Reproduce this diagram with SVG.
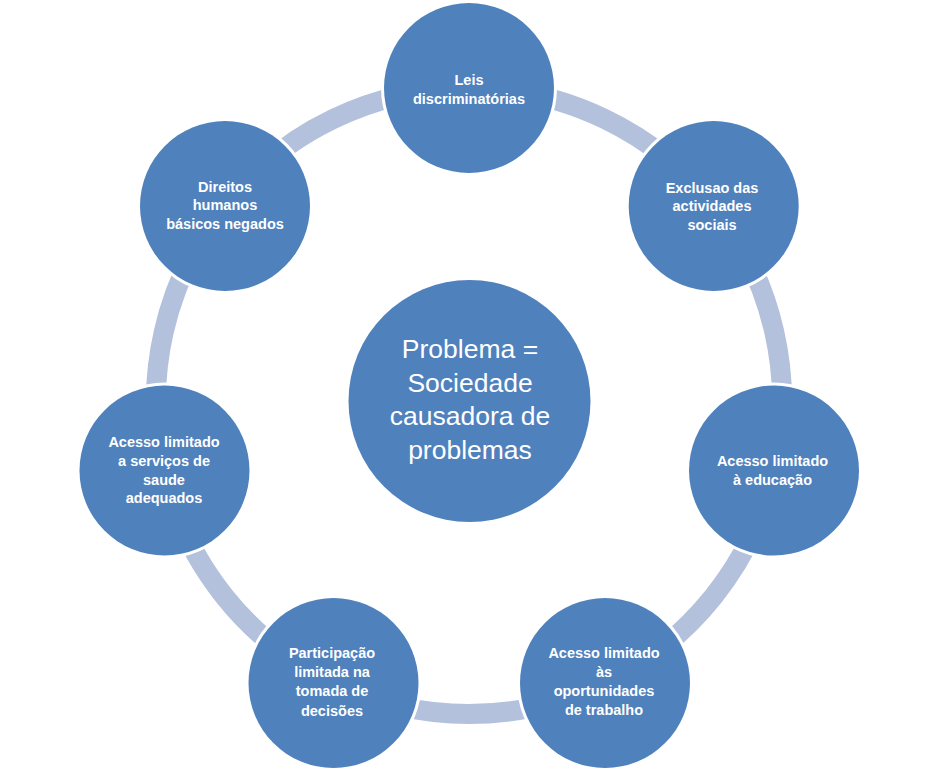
<svg xmlns="http://www.w3.org/2000/svg" width="938" height="773" viewBox="0 0 938 773">
<style>
.ring{fill:none;stroke:#B3C1DC;stroke-width:20}
.halo{fill:#FFFFFF}
.node{fill:#4F81BD}
.t{font-family:"Liberation Sans",Arial,sans-serif;font-size:14.5px;font-weight:bold;fill:#FFFFFF;text-anchor:middle}
.tc{font-family:"Liberation Sans",Arial,sans-serif;font-size:26.5px;fill:#FFFFFF;text-anchor:middle}
</style>
<rect width="938" height="773" fill="#FFFFFF"/>
<g id="connectors">
<path class="ring" d="M469,88 A313,313 0 0 1 713.71,205.85"/>
<path class="ring" d="M713.71,205.85 A313,313 0 0 1 774.15,470.65"/>
<path class="ring" d="M774.15,470.65 A313,313 0 0 1 604.8,683"/>
<path class="ring" d="M604.8,683 A313,313 0 0 1 333.2,683"/>
<path class="ring" d="M333.2,683 A313,313 0 0 1 163.85,470.65"/>
<path class="ring" d="M163.85,470.65 A313,313 0 0 1 224.29,205.85"/>
<path class="ring" d="M224.29,205.85 A313,313 0 0 1 469,88"/>
</g>
<g id="center">
<circle class="node" cx="469.5" cy="401" r="121"/>
<text class="tc" x="470" y="358">Problema =</text>
<text class="tc" x="470" y="391.5">Sociedade</text>
<text class="tc" x="470" y="425">causadora de</text>
<text class="tc" x="470" y="458.5">problemas</text>
</g>
<g id="n1">
<circle class="halo" cx="469" cy="88" r="88"/>
<circle class="node" cx="469" cy="88" r="85"/>
<text class="t" x="469" y="85">Leis</text>
<text class="t" x="469" y="104">discriminatórias</text>
</g>
<g id="n2">
<circle class="halo" cx="713.7" cy="206" r="88"/>
<circle class="node" cx="713.7" cy="206" r="85"/>
<text class="t" x="712" y="192.5">Exclusao das</text>
<text class="t" x="712" y="211">actividades</text>
<text class="t" x="712" y="229.5">sociais</text>
</g>
<g id="n3">
<circle class="halo" cx="774" cy="470.5" r="88"/>
<circle class="node" cx="774" cy="470.5" r="85"/>
<text class="t" x="772.5" y="466">Acesso limitado</text>
<text class="t" x="772.5" y="484.5">à educação</text>
</g>
<g id="n4">
<circle class="halo" cx="605" cy="683" r="88"/>
<circle class="node" cx="605" cy="683" r="85"/>
<text class="t" x="604" y="658">Acesso limitado</text>
<text class="t" x="604" y="677">às</text>
<text class="t" x="604" y="696">oportunidades</text>
<text class="t" x="604" y="715">de trabalho</text>
</g>
<g id="n5">
<circle class="halo" cx="333.5" cy="683" r="88"/>
<circle class="node" cx="333.5" cy="683" r="85"/>
<text class="t" x="332" y="658">Participação</text>
<text class="t" x="332" y="677">limitada na</text>
<text class="t" x="332" y="696">tomada de</text>
<text class="t" x="332" y="715.5">decisões</text>
</g>
<g id="n6">
<circle class="halo" cx="164.5" cy="470.5" r="88"/>
<circle class="node" cx="164.5" cy="470.5" r="85"/>
<text class="t" x="164" y="446.5">Acesso limitado</text>
<text class="t" x="164" y="465.5">a serviços de</text>
<text class="t" x="164" y="484.5">saude</text>
<text class="t" x="164" y="503">adequados</text>
</g>
<g id="n7">
<circle class="halo" cx="225" cy="206" r="88"/>
<circle class="node" cx="225" cy="206" r="85"/>
<text class="t" x="225" y="191.5">Direitos</text>
<text class="t" x="225" y="210">humanos</text>
<text class="t" x="225" y="228.5">básicos negados</text>
</g>
</svg>
